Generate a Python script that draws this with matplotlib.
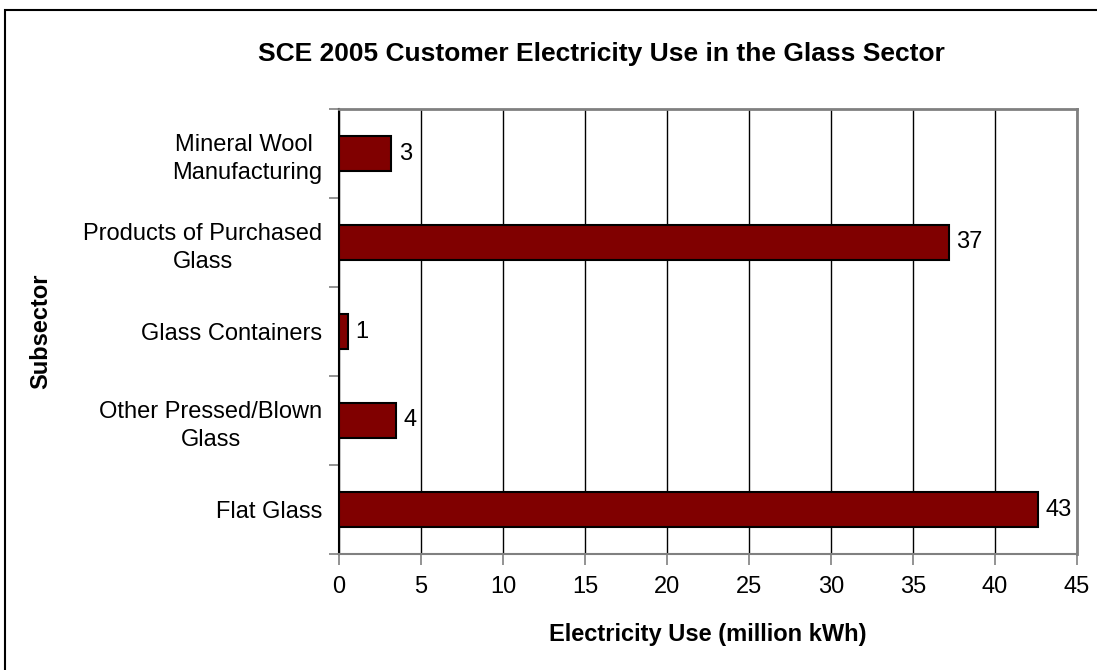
import matplotlib
matplotlib.use("Agg")
import matplotlib.pyplot as plt
from matplotlib.patches import Rectangle
import numpy as np

plt.rcParams['font.family'] = ['Liberation Sans', 'DejaVu Sans']

# data (bottom to top)
subsectors = ["Flat Glass", "Other Pressed/Blown\nGlass", "Glass Containers",
              "Products of Purchased\nGlass", "Mineral Wool \nManufacturing"]
use_mkwh = [42.6, 3.5, 0.55, 37.2, 3.2]
value_labels = ["43", "4", "1", "37", "3"]
x_ticks = [0, 5, 10, 15, 20, 25, 30, 35, 40, 45]

fig = plt.figure(figsize=(10.97, 6.70), dpi=100)
ax = fig.add_axes([339 / 1097, 1 - 554 / 670, (1077 - 339) / 1097, (554 - 109) / 670])

# outer chart frame
fig.patches.append(Rectangle((5 / 1097, -0.1), 1.2, 1 - 10 / 670 + 0.1,
                             transform=fig.transFigure, fill=False,
                             edgecolor="black", linewidth=1.5))

pos = np.arange(len(subsectors))
ax.barh(pos, use_mkwh, height=0.4, color="#800000", edgecolor="black",
        linewidth=1.5, zorder=3)
for y, v, lab in zip(pos, use_mkwh, value_labels):
    ax.text(v + 0.45, y, lab, va="center", ha="left", fontsize=17)

ax.set_xlim(0, 45)
ax.set_ylim(-0.5, 4.5)
ax.set_xticks(x_ticks)
ax.xaxis.grid(True, color="black", linewidth=1)
ax.set_axisbelow(True)

ax.set_yticks(pos)
ax.set_yticklabels(subsectors, multialignment="center", linespacing=1.35)
ax.set_yticks(np.arange(-0.5, 5, 1), minor=True)
ax.tick_params(axis="y", which="major", length=0, pad=12, labelsize=17)
ax.tick_params(axis="y", which="minor", length=7, width=1.2, color="#808080")
ax.tick_params(axis="x", length=8, width=1.2, color="#808080", labelsize=17, pad=8)

ax.spines["left"].set_color("black")
ax.spines["left"].set_linewidth(1.5)
ax.spines["bottom"].set_color("#808080")
ax.spines["bottom"].set_linewidth(1.5)
for s in ("top", "right"):
    ax.spines[s].set_color("#808080")
    ax.spines[s].set_linewidth(2)

ax.set_xlabel("Electricity Use (million kWh)", fontsize=17, fontweight="bold", labelpad=18)
ax.set_ylabel("Subsector", fontsize=17, fontweight="bold", labelpad=22)
fig.text(0.548, 1 - 54 / 670, "SCE 2005 Customer Electricity Use in the Glass Sector",
         ha="center", va="center", fontsize=19, fontweight="bold")

fig.savefig("out.png", dpi=100)
